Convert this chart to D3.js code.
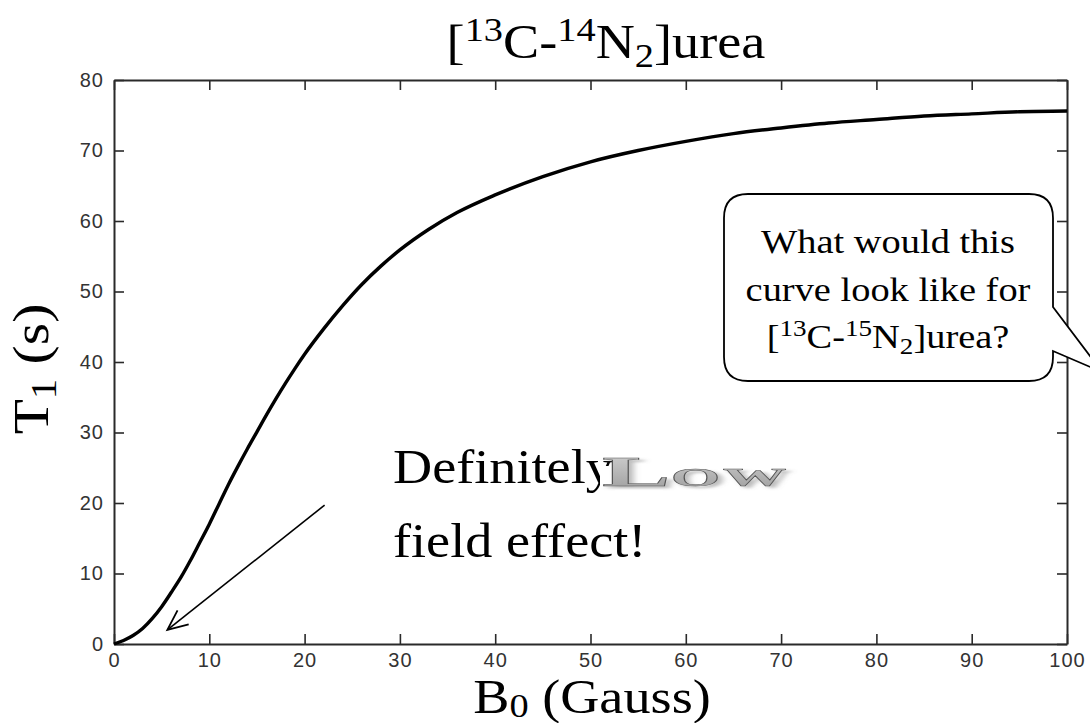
<!DOCTYPE html>
<html>
<head>
<meta charset="utf-8">
<script src="https://cdn.jsdelivr.net/npm/d3@7"></script>
<style>
  html, body { margin: 0; padding: 0; background: #fff; }
  svg { display: block; }
  .tick text { font-family: "Liberation Sans", Arial, sans-serif; font-size: 20px; fill: #333; letter-spacing: 1px; }
  .serif { font-family: "Liberation Serif", "Times New Roman", serif; }
</style>
</head>
<body>
<svg id="chart" width="1090" height="723"></svg>
<script>
// Field strength B0 (Gauss) and the matching T1 relaxation time (s)
const fieldGauss = [0, 1, 2, 3, 4, 5, 6, 7, 8, 9, 10, 11, 12, 13, 14, 15, 16, 17, 18, 19,
                    20, 22, 24, 26, 28, 30, 33, 36, 40, 45, 50, 55, 60, 65, 70, 75, 80,
                    85, 90, 95, 100];
const t1Seconds  = [0, 0.5, 1.2, 2.2, 3.6, 5.3, 7.3, 9.4, 11.8, 14.4, 17.0, 19.8, 22.6,
                    25.2, 27.7, 30.1, 32.5, 34.8, 37.0, 39.1, 41.1, 44.7, 48.0, 51.0,
                    53.6, 55.9, 58.8, 61.2, 63.7, 66.3, 68.4, 70.0, 71.3, 72.4, 73.2,
                    73.9, 74.4, 74.9, 75.2, 75.5, 75.6];
const xTicks = [0, 10, 20, 30, 40, 50, 60, 70, 80, 90, 100];
const yTicks = [0, 10, 20, 30, 40, 50, 60, 70, 80];

// Arrow annotation, in data units: tail then head
const arrowFrom = [22.1, 19.7];
const arrowTo   = [5.6, 2.0];

const svg = d3.select("#chart");
const W = 1090, H = 723;
const m = { left: 114, right: 1090 - 1067, top: 80, bottom: 723 - 644 };
const STRETCH = 1.13; // slide text is drawn a little wide

const x = d3.scaleLinear().domain([0, 100]).range([m.left, W - m.right]);
const y = d3.scaleLinear().domain([0, 80]).range([H - m.bottom, m.top]);

const axisColor = "#2a2a2a";
const tickLen = 10;

// Axes: ticks point inward on all four sides, like a boxed plot
const gx = svg.append("g").attr("transform", `translate(0,${y(0)})`)
  .call(d3.axisBottom(x).tickValues(xTicks).tickSizeInner(-tickLen).tickSizeOuter(0).tickPadding(11));
const gxTop = svg.append("g").attr("transform", `translate(0,${y(80)})`)
  .call(d3.axisTop(x).tickValues(xTicks).tickSizeInner(-tickLen).tickSizeOuter(0).tickFormat(""));
const gy = svg.append("g").attr("transform", `translate(${x(0)},0)`)
  .call(d3.axisLeft(y).tickValues(yTicks).tickSizeInner(-tickLen).tickSizeOuter(0).tickPadding(10));
const gyRight = svg.append("g").attr("transform", `translate(${x(100)},0)`)
  .call(d3.axisRight(y).tickValues(yTicks).tickSizeInner(-tickLen).tickSizeOuter(0).tickFormat(""));

[gx, gxTop, gy, gyRight].forEach(g => {
  g.attr("font-size", null).attr("font-family", null);
  g.select(".domain").attr("stroke", axisColor).attr("stroke-width", 2);
  g.selectAll(".tick line").attr("stroke", axisColor).attr("stroke-width", 1.6);
});
gx.selectAll(".tick text").attr("dy", "0.58em");

// T1 curve
const pts = fieldGauss.map((b, i) => [b, t1Seconds[i]]);
svg.append("path")
  .datum(pts)
  .attr("fill", "none")
  .attr("stroke", "#000")
  .attr("stroke-width", 3.4)
  .attr("stroke-linejoin", "round")
  .attr("d", d3.line().x(d => x(d[0])).y(d => y(d[1])).curve(d3.curveMonotoneX));

// Helper: serif text block stretched horizontally around an anchor point
function wideText(cx, cy, anchor, rotate) {
  const g = svg.append("g")
    .attr("transform", `translate(${cx},${cy})` + (rotate ? ` rotate(${rotate})` : "") + ` scale(${STRETCH},1)`);
  return g.append("text").attr("class", "serif").attr("text-anchor", anchor).attr("fill", "#000");
}

// Title
{
  const t = wideText(606, 58, "middle").attr("font-size", 48);
  t.append("tspan").text("[");
  t.append("tspan").attr("font-size", 34).attr("dy", -17).text("13");
  t.append("tspan").attr("dy", 17).text("C-");
  t.append("tspan").attr("font-size", 34).attr("dy", -17).text("14");
  t.append("tspan").attr("dy", 17).text("N");
  t.append("tspan").attr("font-size", 34).attr("dy", 9).text("2");
  t.append("tspan").attr("dy", -9).text("]urea");
}

// Axis titles
{
  const t = wideText(592, 713, "middle").attr("font-size", 48);
  t.append("tspan").text("B");
  t.append("tspan").attr("font-size", 34).attr("dy", 4).text("0");
  t.append("tspan").attr("dy", -4).text(" (Gauss)");
}
{
  const t = wideText(48, 369, "middle", -90).attr("font-size", 51);
  t.append("tspan").text("T");
  t.append("tspan").attr("font-size", 36).attr("dy", 8).text("1");
  t.append("tspan").attr("dy", -8).text(" (s)");
}

// Annotation text with the WordArt "Low" laid over the end of the first line
wideText(393, 483, "start").attr("font-size", 48).text("Definitely");
wideText(393, 557, "start").attr("font-size", 48).text("field effect!");

svg.append("rect").attr("x", 600).attr("y", 466).attr("width", 192).attr("height", 30).attr("fill", "#fff");
const defs = svg.append("defs");
const grad = defs.append("linearGradient").attr("id", "lowFill").attr("x1", 0).attr("y1", 0).attr("x2", 0).attr("y2", 1);
grad.append("stop").attr("offset", "0%").attr("stop-color", "#d4d4d4");
grad.append("stop").attr("offset", "100%").attr("stop-color", "#9a9a9a");
defs.append("filter").attr("id", "lowShadow")
  .append("feDropShadow").attr("dx", 2).attr("dy", 2).attr("stdDeviation", 1.2).attr("flood-color", "#777").attr("flood-opacity", 0.5);
{
  const g = svg.append("g").attr("transform", "translate(602,486) scale(2.45,1)");
  const t = g.append("text").attr("class", "serif")
    .attr("fill", "url(#lowFill)").attr("stroke", "#555").attr("stroke-width", 0.5)
    .attr("filter", "url(#lowShadow)").attr("font-weight", "bold");
  t.append("tspan").attr("font-size", 42).text("L");
  t.append("tspan").attr("font-size", 26).attr("letter-spacing", 1).text("OW");
}

// Arrow pointing at the low-field rise
{
  const [x1, y1] = [x(arrowFrom[0]), y(arrowFrom[1])];
  const [x2, y2] = [x(arrowTo[0]), y(arrowTo[1])];
  svg.append("line").attr("x1", x1).attr("y1", y1).attr("x2", x2).attr("y2", y2)
    .attr("stroke", "#000").attr("stroke-width", 1.6);
  const ang = Math.atan2(y1 - y2, x1 - x2);
  const hl = 22, spread = 0.42;
  const p1 = [x2 + hl * Math.cos(ang + spread), y2 + hl * Math.sin(ang + spread)];
  const p2 = [x2 + hl * Math.cos(ang - spread), y2 + hl * Math.sin(ang - spread)];
  svg.append("path")
    .attr("d", `M${p1[0]},${p1[1]}L${x2},${y2}L${p2[0]},${p2[1]}`)
    .attr("fill", "none").attr("stroke", "#000").attr("stroke-width", 1.8);
}

// Speech-bubble callout with its pointer running off the right edge
{
  const L = 724, R = 1053, T = 194, B = 381, r = 24;
  const tailTop = 307, tailBot = 351, tip = [1102, 372];
  const d = `M${L + r},${T} H${R - r} Q${R},${T} ${R},${T + r} V${tailTop}
             L${tip[0]},${tip[1]} L${R},${tailBot} V${B - r} Q${R},${B} ${R - r},${B}
             H${L + r} Q${L},${B} ${L},${B - r} V${T + r} Q${L},${T} ${L + r},${T} Z`;
  svg.append("path").attr("d", d).attr("fill", "#fff").attr("stroke", "#000").attr("stroke-width", 1.8);
  const cx = 888;
  wideText(cx, 253, "middle").attr("font-size", 34).text("What would this");
  wideText(cx, 301, "middle").attr("font-size", 34).text("curve look like for");
  const t = wideText(cx, 348, "middle").attr("font-size", 34);
  t.append("tspan").text("[");
  t.append("tspan").attr("font-size", 24).attr("dy", -12).text("13");
  t.append("tspan").attr("dy", 12).text("C-");
  t.append("tspan").attr("font-size", 24).attr("dy", -12).text("15");
  t.append("tspan").attr("dy", 12).text("N");
  t.append("tspan").attr("font-size", 24).attr("dy", 6).text("2");
  t.append("tspan").attr("dy", -6).text("]urea?");
}
</script>
</body>
</html>
